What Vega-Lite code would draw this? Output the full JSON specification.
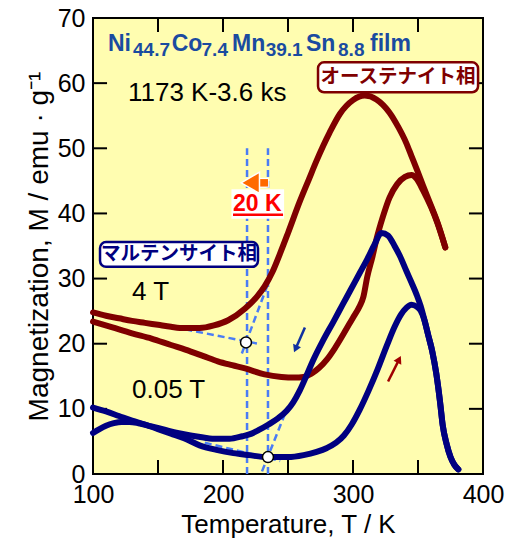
{
  "$schema": "https://vega.github.io/schema/vega-lite/v6.json",
  "width": 390,
  "height": 456,
  "autosize": {"type": "none"},
  "padding": {"left": 93, "top": 18, "right": 29, "bottom": 68},
  "background": "white",
  "config": {
    "view": {"stroke": "black", "strokeWidth": 2, "fill": "#FFFDB0"},
    "axis": {
      "domain": false, "grid": false, "ticks": false,
      "labelFont": "Liberation Sans", "labelFontSize": 25, "labelColor": "black",
      "titleFont": "Liberation Sans", "titleFontWeight": "normal", "titleColor": "black",
      "labelFlush": false, "labelOverlap": false, "labelBound": false
    }
  },
  "datasets": {
    "curves": [
      {"s":"A","T":100,"M":24.8},{"s":"A","T":110,"M":24.3},{"s":"A","T":120,"M":23.9},{"s":"A","T":130,"M":23.5},{"s":"A","T":140,"M":23.2},{"s":"A","T":150,"M":22.9},{"s":"A","T":160,"M":22.6},{"s":"A","T":170,"M":22.4},{"s":"A","T":182,"M":22.4},{"s":"A","T":193,"M":22.8},{"s":"A","T":204,"M":23.6},{"s":"A","T":217,"M":25.4},{"s":"A","T":226,"M":27.2},{"s":"A","T":232,"M":28.8},{"s":"A","T":238,"M":31},{"s":"A","T":244,"M":33.9},{"s":"A","T":250,"M":37},{"s":"A","T":259,"M":41.8},{"s":"A","T":266,"M":45.2},{"s":"A","T":272,"M":48.1},{"s":"A","T":282,"M":52.4},{"s":"A","T":290,"M":55.3},{"s":"A","T":300,"M":57.4},{"s":"A","T":309,"M":58.1},{"s":"A","T":318,"M":57.5},{"s":"A","T":328,"M":55.5},{"s":"A","T":335,"M":53.2},{"s":"A","T":341,"M":50.8},{"s":"A","T":345,"M":48.8},{"s":"A","T":349,"M":46.8},{"s":"A","T":354,"M":44.2},{"s":"A","T":360,"M":41.2},{"s":"A","T":365,"M":38.6},{"s":"A","T":371,"M":34.8},
      {"s":"B","T":100,"M":23.4},{"s":"B","T":115,"M":22.5},{"s":"B","T":130,"M":21.6},{"s":"B","T":145,"M":20.8},{"s":"B","T":160,"M":19.8},{"s":"B","T":171,"M":19.1},{"s":"B","T":185,"M":18.1},{"s":"B","T":196,"M":17.3},{"s":"B","T":207,"M":16.7},{"s":"B","T":217,"M":16.2},{"s":"B","T":232,"M":15.3},{"s":"B","T":245,"M":14.9},{"s":"B","T":255,"M":14.8},{"s":"B","T":262,"M":14.9},{"s":"B","T":268,"M":15.4},{"s":"B","T":274,"M":16.3},{"s":"B","T":280,"M":17.6},{"s":"B","T":286,"M":19.3},{"s":"B","T":293,"M":21.6},{"s":"B","T":300,"M":24},{"s":"B","T":305,"M":25.7},{"s":"B","T":308,"M":27.2},{"s":"B","T":311,"M":30.3},{"s":"B","T":315,"M":33.4},{"s":"B","T":318,"M":36},{"s":"B","T":323,"M":39.5},{"s":"B","T":328,"M":42.4},{"s":"B","T":334,"M":44.5},{"s":"B","T":340,"M":45.6},{"s":"B","T":345,"M":45.9},{"s":"B","T":349,"M":45.3},{"s":"B","T":354,"M":43.5},{"s":"B","T":360,"M":41},{"s":"B","T":365,"M":38.5},{"s":"B","T":371,"M":34.8},
      {"s":"C","T":100,"M":6.3},{"s":"C","T":105,"M":6.9},{"s":"C","T":110,"M":7.4},{"s":"C","T":116,"M":7.8},{"s":"C","T":122,"M":8.0},{"s":"C","T":128,"M":8.0},{"s":"C","T":135,"M":7.8},{"s":"C","T":145,"M":7.3},{"s":"C","T":155,"M":6.8},{"s":"C","T":165,"M":6.3},{"s":"C","T":175,"M":5.9},{"s":"C","T":185,"M":5.6},{"s":"C","T":195,"M":5.4},{"s":"C","T":205,"M":5.4},{"s":"C","T":215,"M":5.8},{"s":"C","T":222,"M":6.2},{"s":"C","T":228,"M":6.8},{"s":"C","T":235,"M":7.6},{"s":"C","T":242,"M":8.5},{"s":"C","T":249,"M":9.7},{"s":"C","T":254,"M":11.0},{"s":"C","T":259,"M":12.8},{"s":"C","T":264,"M":15},{"s":"C","T":269,"M":17.3},{"s":"C","T":277,"M":20.5},{"s":"C","T":285,"M":23.4},{"s":"C","T":292,"M":26},{"s":"C","T":298,"M":28.2},{"s":"C","T":305,"M":30.8},{"s":"C","T":311,"M":33},{"s":"C","T":316,"M":35},{"s":"C","T":322,"M":37},{"s":"C","T":327,"M":36.6},{"s":"C","T":332,"M":35},{"s":"C","T":336,"M":33.5},{"s":"C","T":341,"M":31.2},{"s":"C","T":345,"M":29.4},{"s":"C","T":349,"M":27.5},{"s":"C","T":352,"M":25.8},{"s":"C","T":355,"M":23.6},{"s":"C","T":358,"M":21.2},{"s":"C","T":361,"M":18.8},{"s":"C","T":364,"M":15.5},{"s":"C","T":367,"M":11},{"s":"C","T":369,"M":7.5},{"s":"C","T":372,"M":4.6},{"s":"C","T":375,"M":2.6},{"s":"C","T":378,"M":1.4},{"s":"C","T":381,"M":0.7},
      {"s":"D","T":100,"M":10.2},{"s":"D","T":110,"M":9.6},{"s":"D","T":120,"M":8.9},{"s":"D","T":130,"M":8.2},{"s":"D","T":140,"M":7.6},{"s":"D","T":150,"M":6.9},{"s":"D","T":160,"M":6.2},{"s":"D","T":170,"M":5.5},{"s":"D","T":182,"M":4.4},{"s":"D","T":195,"M":3.7},{"s":"D","T":208,"M":3.2},{"s":"D","T":220,"M":2.9},{"s":"D","T":234,"M":2.6},{"s":"D","T":250,"M":2.6},{"s":"D","T":262,"M":2.9},{"s":"D","T":272,"M":3.4},{"s":"D","T":280,"M":4.0},{"s":"D","T":287,"M":4.8},{"s":"D","T":293,"M":5.9},{"s":"D","T":299,"M":7.6},{"s":"D","T":305,"M":9.8},{"s":"D","T":312,"M":12.8},{"s":"D","T":319,"M":16.1},{"s":"D","T":326,"M":19.7},{"s":"D","T":332,"M":22.6},{"s":"D","T":337,"M":24.5},{"s":"D","T":341,"M":25.5},{"s":"D","T":345,"M":26},{"s":"D","T":349,"M":25.7},{"s":"D","T":352,"M":25.1},{"s":"D","T":355,"M":23.6},{"s":"D","T":358,"M":21.2},{"s":"D","T":361,"M":18.8},{"s":"D","T":364,"M":15.5},{"s":"D","T":367,"M":11},{"s":"D","T":369,"M":7.5},{"s":"D","T":372,"M":4.6},{"s":"D","T":375,"M":2.6},{"s":"D","T":378,"M":1.4},{"s":"D","T":381,"M":0.7}
    ],
    "segs": [
      {"T":218.5,"M":0,"T2":218.5,"M2":50},
      {"T":234.6,"M":0,"T2":234.6,"M2":50},
      {"T":171,"M":22.2,"T2":227,"M2":20.0},
      {"T":214.5,"M":18.5,"T2":238,"M2":31},
      {"T":186,"M":4.8,"T2":244,"M2":2.0},
      {"T":230,"M":0.4,"T2":248,"M2":9.4}
    ]
  },
  "encoding": {
    "x": {"field": "T", "type": "quantitative", "scale": {"domain": [100, 400], "nice": false, "zero": false},
          "axis": {"orient": "bottom", "values": [100,200,300,400], "labelPadding": 8, "title": "Temperature, T / K", "titleFontSize": 26, "titlePadding": 4}},
    "y": {"field": "M", "type": "quantitative", "scale": {"domain": [0, 70], "nice": false, "zero": false},
          "axis": {"orient": "left", "values": [0,10,20,30,40,50,60,70], "labelPadding": 8, "title": "Magnetization,  M / emu · g⁻¹", "titleFontSize": 28, "titlePadding": 4}}
  },
  "layer": [
    {
      "data": {"name": "segs"},
      "mark": {"type": "rule", "strokeDash": [7, 4], "color": "#4A7CF5", "strokeWidth": 2.5},
      "encoding": {"x2": {"field": "T2"}, "y2": {"field": "M2"}}
    },
    {
      "data": {"values": [
        {"T":150,"M":0,"T2":150,"M2":2.15},{"T":200,"M":0,"T2":200,"M2":2.15},{"T":250,"M":0,"T2":250,"M2":2.15},{"T":300,"M":0,"T2":300,"M2":2.15},{"T":350,"M":0,"T2":350,"M2":2.15},
        {"T":150,"M":70,"T2":150,"M2":67.85},{"T":200,"M":70,"T2":200,"M2":67.85},{"T":250,"M":70,"T2":250,"M2":67.85},{"T":300,"M":70,"T2":300,"M2":67.85},{"T":350,"M":70,"T2":350,"M2":67.85},
        {"T":100,"M":10,"T2":110.8,"M2":10},{"T":100,"M":20,"T2":110.8,"M2":20},{"T":100,"M":30,"T2":110.8,"M2":30},{"T":100,"M":40,"T2":110.8,"M2":40},{"T":100,"M":50,"T2":110.8,"M2":50},{"T":100,"M":60,"T2":110.8,"M2":60},
        {"T":400,"M":10,"T2":389.2,"M2":10},{"T":400,"M":20,"T2":389.2,"M2":20},{"T":400,"M":30,"T2":389.2,"M2":30},{"T":400,"M":40,"T2":389.2,"M2":40},{"T":400,"M":50,"T2":389.2,"M2":50},{"T":400,"M":60,"T2":389.2,"M2":60}
      ]},
      "mark": {"type": "rule", "color": "black", "strokeWidth": 2},
      "encoding": {"x2": {"field": "T2"}, "y2": {"field": "M2"}}
    },
    {
      "data": {"name": "curves"},
      "mark": {"type": "line", "strokeWidth": 6, "interpolate": "monotone", "strokeCap": "round", "strokeJoin": "round"},
      "encoding": {
        "detail": {"field": "s"},
        "color": {"field": "s", "type": "nominal", "scale": {"domain": ["A","B","C","D"], "range": ["#7F0000","#7F0000","#000080","#000080"]}, "legend": null}
      }
    },
    {
      "data": {"values": [{"T": 273.1, "M": 63.2, "T2": 396.2, "M2": 58.6}]},
      "mark": {"type": "rect", "fill": "white", "stroke": "#7F0000", "strokeWidth": 2.5, "cornerRadius": 6},
      "encoding": {"x2": {"field": "T2"}, "y2": {"field": "M2"}}
    },
    {
      "data": {"values": [{"T": 105.4, "M": 35.6, "T2": 226.9, "M2": 31.8}]},
      "mark": {"type": "rect", "fill": "white", "stroke": "#000080", "strokeWidth": 2.5, "cornerRadius": 6},
      "encoding": {"x2": {"field": "T2"}, "y2": {"field": "M2"}}
    },
    {
      "data": {"values": [{"T": 334.6, "M": 60.9, "label": "オーステナイト相"}]},
      "mark": {"type": "text", "font": "Noto Sans CJK JP", "fontWeight": "bold", "fontSize": 19.5, "color": "#7F0000", "align": "center", "baseline": "middle"},
      "encoding": {"text": {"field": "label"}}
    },
    {
      "data": {"values": [{"T": 166.2, "M": 33.7, "label": "マルテンサイト相"}]},
      "mark": {"type": "text", "font": "Noto Sans CJK JP", "fontWeight": "bold", "fontSize": 19.5, "color": "#000080", "align": "center", "baseline": "middle"},
      "encoding": {"text": {"field": "label"}}
    },
    {
      "data": {"values": [{"T": 126.9, "M": 57.3, "label": "1173 K-3.6 ks"}, {"T": 130, "M": 26.7, "label": "4 T"}, {"T": 130, "M": 11.7, "label": "0.05 T"}]},
      "mark": {"type": "text", "font": "Liberation Sans", "fontSize": 26, "color": "black", "align": "left", "baseline": "alphabetic"},
      "encoding": {"text": {"field": "label"}}
    },
    {
      "data": {"values": [{"T": 111.5, "M": 64.9, "label": "Ni"}, {"T": 160.5, "M": 64.9, "label": "Co"}, {"T": 206.9, "M": 64.9, "label": "Mn"}, {"T": 263.8, "M": 64.9, "label": "Sn"}, {"T": 313.1, "M": 64.9, "label": "film"}]},
      "mark": {"type": "text", "font": "Liberation Sans", "fontWeight": "bold", "fontSize": 23, "color": "#1A4BA0", "align": "left", "baseline": "alphabetic"},
      "encoding": {"text": {"field": "label"}}
    },
    {
      "data": {"values": [{"T": 130.8, "M": 64.2, "label": "44.7"}, {"T": 183.5, "M": 64.2, "label": "7.4"}, {"T": 232.8, "M": 64.2, "label": "39.1"}, {"T": 288.5, "M": 64.2, "label": "8.8"}]},
      "mark": {"type": "text", "font": "Liberation Sans", "fontWeight": "bold", "fontSize": 19, "color": "#1A4BA0", "align": "left", "baseline": "alphabetic"},
      "encoding": {"text": {"field": "label"}}
    },
    {
      "data": {"values": [{"T": 206.5, "M": 43.7, "T2": 247, "M2": 39.2}]},
      "mark": {"type": "rect", "fill": "white"},
      "encoding": {"x2": {"field": "T2"}, "y2": {"field": "M2"}}
    },
    {
      "data": {"values": [{"T": 207.7, "M": 40.4, "label": "20 K"}]},
      "mark": {"type": "text", "font": "Liberation Sans", "fontWeight": "bold", "fontSize": 23, "color": "#FF0000", "align": "left", "baseline": "alphabetic"},
      "encoding": {"text": {"field": "label"}}
    },
    {
      "data": {"values": [{"T": 207.7, "M": 39.8, "T2": 246.2}]},
      "mark": {"type": "rule", "color": "#FF0000", "strokeWidth": 2.5},
      "encoding": {"x2": {"field": "T2"}}
    },
    {
      "data": {"values": [{"T": 224.5, "M": 44.7, "T2": 235.3}]},
      "mark": {"type": "rule", "color": "white", "strokeWidth": 10},
      "encoding": {"x2": {"field": "T2"}}
    },
    {
      "data": {"values": [{"T": 223.5, "M": 44.7, "T2": 234.6}]},
      "mark": {"type": "rule", "color": "#FF6A00", "strokeWidth": 7.5},
      "encoding": {"x2": {"field": "T2"}}
    },
    {
      "data": {"values": [{"T": 221, "M": 44.7}]},
      "mark": {"type": "point", "shape": "triangle-left", "size": 450, "filled": true, "fill": "#FF6A00", "stroke": "white", "strokeWidth": 1.5, "opacity": 1},
      "encoding": {}
    },
    {
      "data": {"values": [{"T": 263, "M": 22.5, "T2": 255.8, "M2": 19.2}]},
      "mark": {"type": "rule", "color": "#1030A0", "strokeWidth": 2.5},
      "encoding": {"x2": {"field": "T2"}, "y2": {"field": "M2"}}
    },
    {
      "data": {"values": [{"T": 255.8, "M": 19.2}]},
      "mark": {"type": "point", "shape": "triangle-up", "size": 75, "filled": true, "fill": "#1030A0", "strokeWidth": 0, "opacity": 1, "angle": 204},
      "encoding": {}
    },
    {
      "data": {"values": [{"T": 327, "M": 14.2, "T2": 335.5, "M2": 17.6}]},
      "mark": {"type": "rule", "color": "#A00000", "strokeWidth": 2.5},
      "encoding": {"x2": {"field": "T2"}, "y2": {"field": "M2"}}
    },
    {
      "data": {"values": [{"T": 335.5, "M": 17.6}]},
      "mark": {"type": "point", "shape": "triangle-up", "size": 75, "filled": true, "fill": "#A00000", "strokeWidth": 0, "opacity": 1, "angle": 27},
      "encoding": {}
    },
    {
      "data": {"values": [{"T": 217.7, "M": 20.2}, {"T": 234.6, "M": 2.6}]},
      "mark": {"type": "point", "shape": "circle", "size": 120, "filled": true, "fill": "white", "stroke": "black", "strokeWidth": 1.5, "opacity": 1},
      "encoding": {}
    }
  ]
}
